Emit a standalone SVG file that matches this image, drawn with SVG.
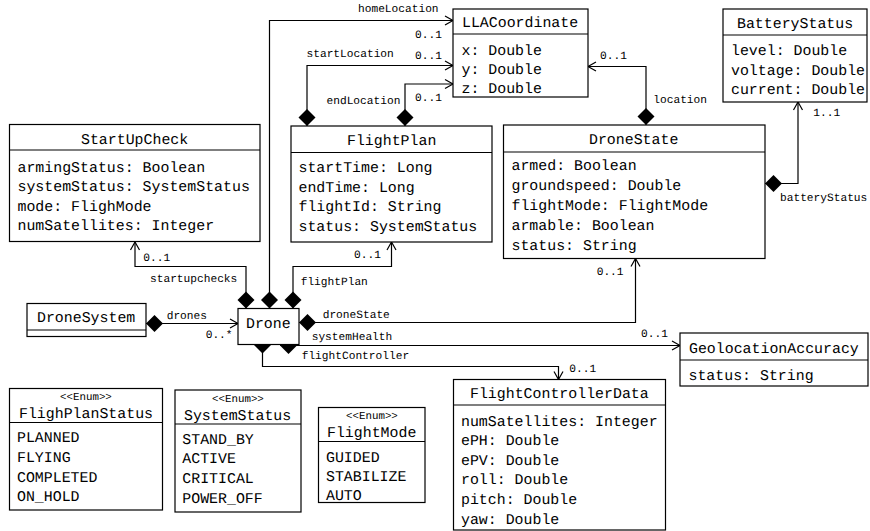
<svg xmlns="http://www.w3.org/2000/svg" width="870" height="531" viewBox="0 0 870 531">
<defs>
<style>
text{font-family:"Liberation Mono","DejaVu Sans Mono",monospace;fill:#000;stroke:none;font-weight:400;text-rendering:geometricPrecision}
.t{font-size:14.9px}
.s{font-size:11.2px}
.e{font-size:10.8px}
.box{fill:#fff;stroke:#000;stroke-width:1.2}
.sep{stroke:#000;stroke-width:1.2}
.con{fill:none;stroke:#000;stroke-width:1.2;marker-start:url(#dia);marker-end:url(#arr)}
</style>
<marker id="arr" markerUnits="userSpaceOnUse" markerWidth="12" markerHeight="12" refX="8" refY="4.5" orient="auto" overflow="visible">
<path d="M0,0 L8,4.5 L0,9" fill="none" stroke="#000" stroke-width="1.2"/>
</marker>
<marker id="dia" markerUnits="userSpaceOnUse" markerWidth="18" markerHeight="18" refX="0" refY="8.5" orient="auto" overflow="visible">
<path d="M0,8.5 L8.5,0 L17,8.5 L8.5,17 Z" fill="#000"/>
</marker>
</defs>

<g id="connectors">
<path class="con" d="M269.5,308.5 V20.5 H453"/>
<path class="con" d="M307,126 V65.5 H453"/>
<path class="con" d="M405,126 V84 H453"/>
<path class="con" d="M646,125 V66.5 H588"/>
<path class="con" d="M765,183.5 H798 V102"/>
<path class="con" d="M246,308.5 V266.5 H135 V242"/>
<path class="con" d="M293,308.5 V266.5 H391.5 V242"/>
<path class="con" d="M146,323.5 H238"/>
<path class="con" d="M299,322.5 H635.5 V258.5"/>
<path class="con" d="M280,345.5 H680"/>
<path class="con" d="M262.5,336.5 V366.5 H558.5 V379.5"/>
<text class="s" x="358" y="11.5">homeLocation</text>
<text class="s" x="415" y="37.5">0..1</text>
<text class="s" x="306.5" y="57">startLocation</text>
<text class="s" x="415" y="58.7">0..1</text>
<text class="s" x="326.5" y="103.7">endLocation</text>
<text class="s" x="415" y="101">0..1</text>
<text class="s" x="600" y="58.7">0..1</text>
<text class="s" x="653.3" y="103">location</text>
<text class="s" x="813.3" y="116.4">1..1</text>
<text class="s" x="780" y="201">batteryStatus</text>
<text class="s" x="143.3" y="261.4">0..1</text>
<text class="s" x="150" y="282">startupchecks</text>
<text class="s" x="354" y="258">0..1</text>
<text class="s" x="300.7" y="285.4">flightPlan</text>
<text class="s" x="166.7" y="318.7">drones</text>
<text class="s" x="205.7" y="338">0..*</text>
<text class="s" x="322.7" y="318">droneState</text>
<text class="s" x="311.7" y="340.4">systemHealth</text>
<text class="s" x="301.7" y="358.7">flightController</text>
<text class="s" x="596.7" y="275.4">0..1</text>
<text class="s" x="641" y="337">0..1</text>
<text class="s" x="569.3" y="372">0..1</text>
</g>

<g id="LLACoordinate">
<rect class="box" x="453" y="9" width="135" height="88"/>
<line class="sep" x1="453" y1="34" x2="588" y2="34"/>
<text class="t" x="462" y="27">LLACoordinate</text>
<text class="t" x="461.5" y="54.5">x: Double</text>
<text class="t" x="461.5" y="73.5">y: Double</text>
<text class="t" x="461.5" y="92.5">z: Double</text>
</g>

<g id="BatteryStatus">
<rect class="box" x="723" y="9" width="144" height="93"/>
<line class="sep" x1="723" y1="35" x2="867" y2="35"/>
<text class="t" x="737" y="27.5">BatteryStatus</text>
<text class="t" x="731" y="55">level: Double</text>
<text class="t" x="731" y="75">voltage: Double</text>
<text class="t" x="731" y="94.3">current: Double</text>
</g>

<g id="StartUpCheck">
<rect class="box" x="9.5" y="124.5" width="250.5" height="117"/>
<line class="sep" x1="9.5" y1="150" x2="260" y2="150"/>
<text class="t" x="81" y="144">StartUpCheck</text>
<text class="t" x="17.5" y="171.5">armingStatus: Boolean</text>
<text class="t" x="17.5" y="191">systemStatus: SystemStatus</text>
<text class="t" x="17.5" y="210.5">mode: FlighMode</text>
<text class="t" x="17.5" y="230">numSatellites: Integer</text>
</g>

<g id="FlightPlan">
<rect class="box" x="291" y="126" width="201" height="116"/>
<line class="sep" x1="291" y1="152.5" x2="492" y2="152.5"/>
<text class="t" x="347" y="145">FlightPlan</text>
<text class="t" x="298.5" y="171.5">startTime: Long</text>
<text class="t" x="298.5" y="191.5">endTime: Long</text>
<text class="t" x="298.5" y="211">flightId: String</text>
<text class="t" x="298.5" y="230.5">status: SystemStatus</text>
</g>

<g id="DroneState">
<rect class="box" x="503.5" y="125" width="261.5" height="133.5"/>
<line class="sep" x1="503.5" y1="152" x2="765" y2="152"/>
<text class="t" x="589" y="144.3">DroneState</text>
<text class="t" x="511.5" y="170">armed: Boolean</text>
<text class="t" x="511.5" y="190">groundspeed: Double</text>
<text class="t" x="511.5" y="210">flightMode: FlightMode</text>
<text class="t" x="511.5" y="230">armable: Boolean</text>
<text class="t" x="511.5" y="250">status: String</text>
</g>

<g id="DroneSystem">
<rect class="box" x="27" y="303.5" width="119" height="33"/>
<line class="sep" x1="27" y1="330" x2="146" y2="330"/>
<text class="t" x="37" y="321.7">DroneSystem</text>
</g>

<g id="Drone">
<rect class="box" x="238" y="308.5" width="61" height="36"/>
<text class="t" x="246" y="327.7">Drone</text>
</g>

<g id="GeolocationAccuracy">
<rect class="box" x="680" y="333" width="188" height="53"/>
<line class="sep" x1="680" y1="360" x2="868" y2="360"/>
<text class="t" x="689" y="352.7">GeolocationAccuracy</text>
<text class="t" x="688.5" y="380">status: String</text>
</g>

<g id="FlightControllerData">
<rect class="box" x="453.5" y="379.5" width="212" height="150.5"/>
<line class="sep" x1="453.5" y1="405" x2="665.5" y2="405"/>
<text class="t" x="470" y="397.7">FlightControllerData</text>
<text class="t" x="461" y="425.7">numSatellites: Integer</text>
<text class="t" x="461" y="445">ePH: Double</text>
<text class="t" x="461" y="464.5">ePV: Double</text>
<text class="t" x="461" y="484.3">roll: Double</text>
<text class="t" x="461" y="504">pitch: Double</text>
<text class="t" x="461" y="523.7">yaw: Double</text>
</g>

<g id="FlighPlanStatus">
<rect class="box" x="9.5" y="388.5" width="153" height="121.5"/>
<line class="sep" x1="9.5" y1="422.5" x2="162.5" y2="422.5"/>
<text class="e" x="60" y="400">&lt;&lt;Enum&gt;&gt;</text>
<text class="t" x="19" y="418.3">FlighPlanStatus</text>
<text class="t" x="17" y="441.7">PLANNED</text>
<text class="t" x="17" y="461.5">FLYING</text>
<text class="t" x="17" y="481.5">COMPLETED</text>
<text class="t" x="17" y="501">ON_HOLD</text>
</g>

<g id="SystemStatus">
<rect class="box" x="175" y="390" width="126" height="122"/>
<line class="sep" x1="175" y1="424" x2="301" y2="424"/>
<text class="e" x="212" y="402">&lt;&lt;Enum&gt;&gt;</text>
<text class="t" x="184" y="420">SystemStatus</text>
<text class="t" x="182.3" y="444.3">STAND_BY</text>
<text class="t" x="182.3" y="463.3">ACTIVE</text>
<text class="t" x="182.3" y="483.3">CRITICAL</text>
<text class="t" x="182.3" y="502.7">POWER_OFF</text>
</g>

<g id="FlightMode">
<rect class="box" x="318.5" y="407.5" width="106.5" height="95"/>
<line class="sep" x1="318.5" y1="441.5" x2="425" y2="441.5"/>
<text class="e" x="346" y="418.7">&lt;&lt;Enum&gt;&gt;</text>
<text class="t" x="327" y="437.3">FlightMode</text>
<text class="t" x="326" y="461.7">GUIDED</text>
<text class="t" x="326" y="481">STABILIZE</text>
<text class="t" x="326" y="500">AUTO</text>
</g>
</svg>
